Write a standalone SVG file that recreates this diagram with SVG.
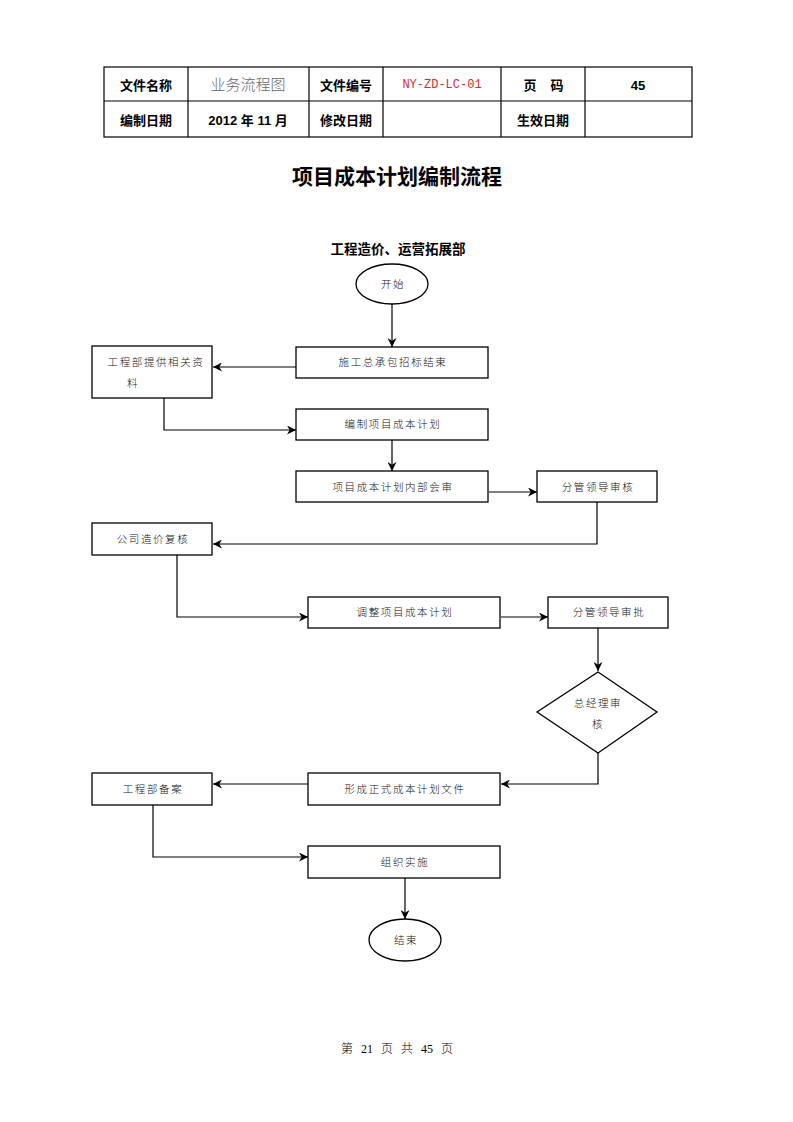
<svg xmlns="http://www.w3.org/2000/svg" width="793" height="1122" viewBox="0 0 793 1122">
<style>
.hd{font-family:"Liberation Sans","Noto Sans CJK SC",sans-serif;font-weight:bold;font-size:13px;fill:#000;text-anchor:middle;dominant-baseline:central}
.tbl{stroke:#000;stroke-width:1.2;fill:none}
.box{fill:#fff;stroke:#000;stroke-width:1.3}
.lb{font-family:"Liberation Serif","Noto Sans CJK SC",serif;font-size:10.5px;font-weight:300;letter-spacing:1.6px;fill:#111;text-anchor:middle;dominant-baseline:central}
.cn{fill:none;stroke:#000;stroke-width:1.2}
</style>
<defs>
<marker id="ah" viewBox="0 0 10 10" refX="10" refY="5" markerWidth="9" markerHeight="9" markerUnits="userSpaceOnUse" orient="auto">
<path d="M0,0 L10,5 L0,10 L3,5 z" fill="#000"/>
</marker>
</defs>
<rect width="793" height="1122" fill="#fff"/>
<g id="header">
<rect class="tbl" x="104" y="67" width="588" height="70"/>
<line class="tbl" x1="104" y1="101" x2="692" y2="101"/>
<line class="tbl" x1="188" y1="67" x2="188" y2="137"/>
<line class="tbl" x1="309" y1="67" x2="309" y2="137"/>
<line class="tbl" x1="383" y1="67" x2="383" y2="137"/>
<line class="tbl" x1="501" y1="67" x2="501" y2="137"/>
<line class="tbl" x1="585" y1="67" x2="585" y2="137"/>
<text class="hd" x="146" y="85">文件名称</text>
<text x="248" y="85" font-family="Liberation Serif,Noto Sans CJK SC,serif" font-size="15" font-weight="300" fill="#666" text-anchor="middle" dominant-baseline="central">业务流程图</text>
<text class="hd" x="346" y="85">文件编号</text>
<text x="442" y="85" font-family="Liberation Mono,monospace" font-size="12" fill="#d03030" text-anchor="middle" dominant-baseline="central">NY-ZD-LC-01</text>
<text class="hd" x="530" y="85">页</text>
<text class="hd" x="557" y="85">码</text>
<text class="hd" x="638" y="85">45</text>
<text class="hd" x="146" y="120">编制日期</text>
<text class="hd" x="248" y="120">2012 年 11 月</text>
<text class="hd" x="346" y="120">修改日期</text>
<text class="hd" x="543" y="120">生效日期</text>
</g>
<text x="397" y="176" font-family="Liberation Sans,Noto Sans CJK SC,sans-serif" font-weight="bold" font-size="21" text-anchor="middle" dominant-baseline="central">项目成本计划编制流程</text>
<text x="398" y="249" font-family="Liberation Sans,Noto Sans CJK SC,sans-serif" font-weight="bold" font-size="13.5" text-anchor="middle" dominant-baseline="central">工程造价、运营拓展部</text>
<g id="connectors">
<line class="cn" x1="392" y1="304" x2="392" y2="347" marker-end="url(#ah)"/>
<line class="cn" x1="296" y1="367" x2="213" y2="367" marker-end="url(#ah)"/>
<polyline class="cn" points="164,398 164,430 296,430" marker-end="url(#ah)"/>
<line class="cn" x1="392" y1="440" x2="392" y2="471" marker-end="url(#ah)"/>
<line class="cn" x1="489" y1="492" x2="537" y2="492" marker-end="url(#ah)"/>
<polyline class="cn" points="597,502 597,544 213,544" marker-end="url(#ah)"/>
<polyline class="cn" points="177,555 177,617 308,617" marker-end="url(#ah)"/>
<line class="cn" x1="501" y1="617" x2="548" y2="617" marker-end="url(#ah)"/>
<line class="cn" x1="598" y1="628" x2="598" y2="671" marker-end="url(#ah)"/>
<polyline class="cn" points="598,753 598,784 501,784" marker-end="url(#ah)"/>
<line class="cn" x1="308" y1="784" x2="213" y2="784" marker-end="url(#ah)"/>
<polyline class="cn" points="153,805 153,857 308,857" marker-end="url(#ah)"/>
<line class="cn" x1="405" y1="878" x2="405" y2="919" marker-end="url(#ah)"/>
</g>
<g id="start"><ellipse class="box" cx="392" cy="284" rx="36" ry="20"/><text class="lb" x="393" y="284">开始</text></g>
<g id="n1"><rect class="box" x="296" y="347" width="192" height="31"/><text class="lb" x="393" y="362">施工总承包招标结束</text></g>
<g id="n2"><rect class="box" x="92" y="346" width="120" height="52"/><text class="lb" x="156" y="362">工程部提供相关资</text><text class="lb" x="133" y="383">料</text></g>
<g id="n3"><rect class="box" x="296" y="409" width="192" height="31"/><text class="lb" x="393" y="424">编制项目成本计划</text></g>
<g id="n4"><rect class="box" x="296" y="471" width="192" height="31"/><text class="lb" x="393" y="487">项目成本计划内部会审</text></g>
<g id="n5"><rect class="box" x="537" y="471" width="120" height="31"/><text class="lb" x="598" y="487">分管领导审核</text></g>
<g id="n6"><rect class="box" x="92" y="523" width="120" height="32"/><text class="lb" x="153" y="539">公司造价复核</text></g>
<g id="n7"><rect class="box" x="308" y="597" width="192" height="31"/><text class="lb" x="405" y="612">调整项目成本计划</text></g>
<g id="n8"><rect class="box" x="548" y="597" width="120" height="31"/><text class="lb" x="609" y="612">分管领导审批</text></g>
<g id="n9"><polygon class="box" points="598,672 657,712 598,753 537,712"/><text class="lb" x="598" y="703">总经理审</text><text class="lb" x="598" y="724">核</text></g>
<g id="n10"><rect class="box" x="308" y="773" width="192" height="32"/><text class="lb" x="405" y="789">形成正式成本计划文件</text></g>
<g id="n11"><rect class="box" x="92" y="773" width="120" height="32"/><text class="lb" x="153" y="789">工程部备案</text></g>
<g id="n12"><rect class="box" x="308" y="846" width="192" height="32"/><text class="lb" x="405" y="862">组织实施</text></g>
<g id="end"><ellipse class="box" cx="405" cy="940" rx="36" ry="21"/><text class="lb" x="406" y="940">结束</text></g>
<text x="397" y="1049" font-family="Liberation Serif,Noto Sans CJK SC,serif" font-size="12" font-weight="300" word-spacing="5" text-anchor="middle" dominant-baseline="central">第 21 页 共 45 页</text>
</svg>
